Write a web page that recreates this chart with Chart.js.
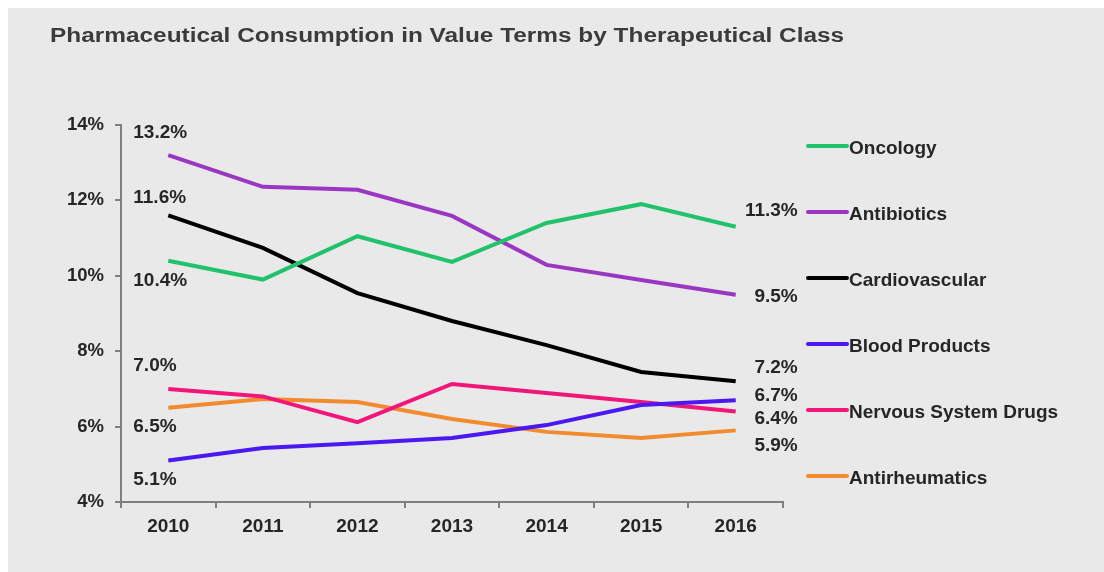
<!DOCTYPE html>
<html>
<head>
<meta charset="utf-8">
<script src="https://cdn.jsdelivr.net/npm/chart.js@4"></script>
<style>
  body { margin: 0; background: #ffffff; }
  #panel { position: absolute; left: 8px; top: 8px; width: 1096px; height: 564px; background: #e9e9e9; }
</style>
</head>
<body>
<div id="panel"><canvas id="pharmaChart" width="1096" height="564"></canvas></div>
<script>
const years = ["2010", "2011", "2012", "2013", "2014", "2015", "2016"];
const yTicks = [4, 6, 8, 10, 12, 14];

const oncology = [10.4, 9.9, 11.05, 10.37, 11.4, 11.9, 11.3];
const antibiotics = [13.2, 12.36, 12.28, 11.59, 10.29, 9.89, 9.5];
const cardiovascular = [11.6, 10.74, 9.54, 8.8, 8.16, 7.45, 7.2];
const bloodProducts = [5.1, 5.43, 5.56, 5.7, 6.04, 6.57, 6.7];
const nervousSystem = [7.0, 6.8, 6.12, 7.13, 6.89, 6.65, 6.4];
const antirheumatics = [6.5, 6.73, 6.65, 6.2, 5.86, 5.7, 5.9];

const names = ["Oncology", "Antibiotics", "Cardiovascular", "Blood Products", "Nervous System Drugs", "Antirheumatics"];
const colors = ["#21c26c", "#9a37c2", "#000000", "#4a18f0", "#f2167b", "#f28a2e"];
const chartTitle = "Pharmaceutical Consumption in Value Terms by Therapeutical Class";

// label offsets (px) from the first / last point of each line
const startDy = [20, -22, -18, 19, -23, 19];
const endDy = [-16, 2, -14, -4, 7, 15];

const font = "'Liberation Sans', Arial, sans-serif";

const allSeries = [oncology, antibiotics, cardiovascular, bloodProducts, nervousSystem, antirheumatics];

const datasets = allSeries.map(function (s, i) {
  return {
    label: names[i],
    data: s,
    borderColor: colors[i],
    backgroundColor: colors[i],
    borderWidth: 4,
    pointRadius: 0,
    tension: 0,
  };
});

// title in the source is a wide bold face, so stretch it a bit
const wideTitle = {
  id: "wideTitle",
  afterDraw(chart) {
    const c = chart.ctx;
    c.save();
    c.font = "bold 20px " + font;
    c.fillStyle = "#3b3b3b";
    c.textBaseline = "middle";
    c.textAlign = "left";
    c.translate(42, 28);
    c.scale(1.22, 1);
    c.fillText(chartTitle, 0, 0);
    c.restore();
  },
};

const endLabels = {
  id: "endLabels",
  afterDatasetsDraw(chart) {
    const c = chart.ctx;
    c.save();
    c.font = "bold 19px " + font;
    c.fillStyle = "#262626";
    c.textBaseline = "middle";
    chart.data.datasets.forEach(function (ds, i) {
      const pts = chart.getDatasetMeta(i).data;
      const first = pts[0];
      const last = pts[pts.length - 1];
      c.textAlign = "left";
      c.fillText(ds.data[0].toFixed(1) + "%", first.x - 35, first.y + startDy[i]);
      c.textAlign = "right";
      c.fillText(ds.data[ds.data.length - 1].toFixed(1) + "%", last.x + 62, last.y + endDy[i]);
    });
    c.restore();
  },
};

const sideLegend = {
  id: "sideLegend",
  afterDraw(chart) {
    const c = chart.ctx;
    c.save();
    c.font = "bold 19px " + font;
    c.textBaseline = "middle";
    c.textAlign = "left";
    chart.data.datasets.forEach(function (ds, i) {
      const y = 138 + i * 66;
      c.strokeStyle = ds.borderColor;
      c.lineWidth = 4;
      c.lineCap = "round";
      c.beginPath();
      c.moveTo(800, y);
      c.lineTo(839, y);
      c.stroke();
      c.fillStyle = "#262626";
      c.fillText(ds.label, 841, y + 3);
    });
    c.restore();
  },
};

new Chart(document.getElementById("pharmaChart"), {
  type: "line",
  data: { labels: years, datasets: datasets },
  plugins: [wideTitle, endLabels, sideLegend],
  options: {
    responsive: false,
    animation: false,
    layout: { padding: { left: 42, right: 321, top: 117, bottom: 0 } },
    plugins: {
      legend: { display: false },
      tooltip: { enabled: false },
      title: { display: false },
    },
    scales: {
      x: {
        offset: true,
        afterFit: function (axis) { axis.height = 70; },
        grid: { offset: true, drawOnChartArea: false, drawTicks: true, tickLength: 6, color: "#7f7f7f", lineWidth: 2 },
        border: { display: true, color: "#7f7f7f", width: 2 },
        ticks: { color: "#262626", padding: 7, font: { family: font, size: 19, weight: "bold" } },
      },
      y: {
        min: 4,
        max: 14,
        afterFit: function (axis) { axis.width = 71; },
        afterBuildTicks: function (axis) {
          axis.ticks = yTicks.map(function (v) { return { value: v }; });
        },
        grid: { drawOnChartArea: false, drawTicks: true, tickLength: 6, color: "#7f7f7f", lineWidth: 2 },
        border: { display: true, color: "#7f7f7f", width: 2 },
        ticks: {
          color: "#262626",
          padding: 11,
          font: { family: font, size: 18.5, weight: "bold" },
          callback: function (v) { return v + "%"; },
        },
      },
    },
  },
});
</script>
</body>
</html>
